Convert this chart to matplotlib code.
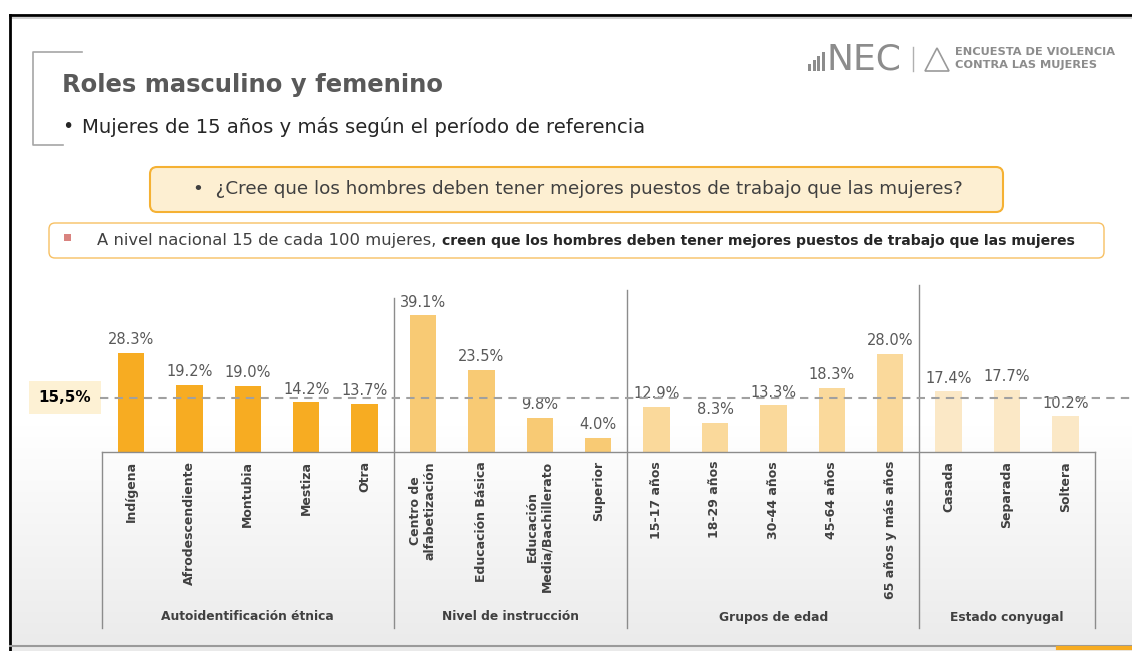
import numpy as np
import matplotlib
matplotlib.use("Agg")
import matplotlib.pyplot as plt
from matplotlib.patches import FancyBboxPatch, Rectangle, Polygon

plt.rcParams['font.family'] = ['DejaVu Sans']

# data
categories = ['Indígena', 'Afrodescendiente', 'Montubia', 'Mestiza', 'Otra',
              'Centro de\nalfabetización', 'Educación Básica',
              'Educación\nMedia/Bachillerato', 'Superior',
              '15-17 años', '18-29 años', '30-44 años', '45-64 años',
              '65 años y más años',
              'Casada', 'Separada', 'Soltera']
values = [28.3, 19.2, 19.0, 14.2, 13.7,
          39.1, 23.5, 9.8, 4.0,
          12.9, 8.3, 13.3, 18.3, 28.0,
          17.4, 17.7, 10.2]
groups = ['Autoidentificación étnica', 'Nivel de instrucción',
          'Grupos de edad', 'Estado conyugal']
group_sizes = [5, 4, 5, 3]
group_colors = ['#F7AC22', '#F8CA74', '#FAD99B', '#FBE8C6']
national = 15.5

W, H = 1132, 651
fig = plt.figure(figsize=(W / 100, H / 100), dpi=100)

# slide decorations in pixel coordinates
bg = fig.add_axes([0, 0, 1, 1])
bg.set_xlim(0, W)
bg.set_ylim(H, 0)
bg.axis('off')

grad = np.ones((H, 1))
yy = np.arange(H)
grad[:, 0] = np.clip(1 - 0.07 * (yy - 420) / 200, 0.92, 1.0)
bg.imshow(np.dstack([grad, grad, grad]), extent=(10, W, H, 15), aspect='auto', zorder=0)

# frame
bg.plot([10, W], [15, 15], color='black', lw=2, zorder=5)
bg.plot([10, W], [18, 18], color='#D0D0D0', lw=1.5, zorder=5)
bg.plot([10, 10], [15, H], color='black', lw=2, zorder=5)
bg.plot([10, W], [646, 646], color='#9A9A9A', lw=1.5, zorder=5)
bg.plot([1058, W], [648, 648], color='#F7AC22', lw=3, zorder=5)

# title bracket
bg.plot([82, 33, 33, 63], [52, 52, 145, 145], color='#A6A6A6', lw=1.2)
bg.text(62, 85, 'Roles masculino y femenino', fontsize=17.5, fontweight='bold',
        color='#595959', va='center', ha='left')
bg.text(62, 127, '•', fontsize=13.8, color='#262626', va='center', ha='left')
bg.text(82, 127, 'Mujeres de 15 años y más según el período de referencia',
        fontsize=14.1, color='#262626', va='center', ha='left')

# logo
for i, h in enumerate([7, 11, 15, 19]):
    bg.add_patch(Rectangle((808 + i * 4.6, 71 - h), 3.2, h, color='#8C8C8C', lw=0))
bg.text(826, 59, 'NEC', fontsize=26, color='#8C8C8C', va='center', ha='left')
bg.plot([913, 913], [47, 71], color='#B0B0B0', lw=1)
bg.add_patch(Polygon([[925, 71], [937, 48], [949, 71]], closed=True, fill=False,
                     edgecolor='#9A9A9A', lw=1.2))
bg.text(955, 52, 'ENCUESTA DE VIOLENCIA', fontsize=8.2, fontweight='bold',
        color='#8C8C8C', va='center', ha='left')
bg.text(955, 65, 'CONTRA LAS MUJERES', fontsize=8.2, fontweight='bold',
        color='#8C8C8C', va='center', ha='left')

# question box
bg.add_patch(FancyBboxPatch((150, 167), 853, 45, boxstyle='round,pad=0,rounding_size=7',
                            facecolor='#FDEFD2', edgecolor='#F5B133', lw=1.5, zorder=2))
bg.text(578, 189, '•  ¿Cree que los hombres deben tener mejores puestos de trabajo que las mujeres?',
        fontsize=13.2, color='#404040', va='center', ha='center', zorder=3)

# national result box
bg.add_patch(FancyBboxPatch((49, 223), 1055, 35, boxstyle='round,pad=0,rounding_size=6',
                            facecolor='white', edgecolor='#F7C063', lw=1, zorder=2))
bg.add_patch(Rectangle((64, 234), 7, 7, color='#D9837F', lw=0, zorder=3))
t1 = bg.text(97, 241, 'A nivel nacional 15 de cada 100 mujeres, ', fontsize=11.8,
             color='#404040', va='center', ha='left', zorder=3)
bg.annotate('creen que los hombres deben tener mejores puestos de trabajo que las mujeres',
            xy=(1, 0.02), xycoords=t1, fontsize=10.1, fontweight='bold', color='#262626',
            va='bottom', ha='left', zorder=3)

# national reference label
bg.add_patch(Rectangle((29, 381), 72, 33, facecolor='#FDF1D4', edgecolor='none', zorder=2))
bg.text(65, 398, '15,5%', fontsize=11, fontweight='bold', color='black',
        va='center', ha='center', zorder=3)

# bar chart: x index i -> pixel 131 + 58.4*i, value v -> pixel 452 - 3.5*v
step, x0, base, ppu = 58.4, 131, 452, 3.5
ax = fig.add_axes([0, 0, 1, 1])
ax.patch.set_alpha(0)
ax.set_xlim((0 - x0) / step, (W - x0) / step)
ax.set_ylim(-(H - base) / ppu, base / ppu)
ax.axis('off')


def v(pix):
    return (base - pix) / ppu


colors = []
for c, n in zip(group_colors, group_sizes):
    colors += [c] * n
xs = np.arange(len(values))
ax.bar(xs, values, width=0.45, color=colors, zorder=3)

for x, val in zip(xs, values):
    ax.annotate(f'{val:.1f}%', (x, val), xytext=(0, 4), textcoords='offset points',
                ha='center', va='bottom', fontsize=10.5, color='#595959', zorder=4)

for x, lab in zip(xs, categories):
    ax.text(x, v(461), lab, rotation=90, ha='center', va='top', multialignment='center',
            fontsize=9, fontweight='bold', color='#404040', zorder=4)

ax.axhline(national, xmin=(100 / W), xmax=1, color='#A0A0A0', lw=1.5,
           dashes=(4, 3), zorder=5)

# table lines
bounds = np.concatenate([[0], np.cumsum(group_sizes)]) - 0.5
line_c = '#8C8C8C'
ax.plot([bounds[0], bounds[-1]], [0, 0], color=line_c, lw=1, zorder=4)
tops = [452, 298, 290, 285, 452]
for b, tp in zip(bounds, tops):
    ax.plot([b, b], [v(tp), v(628)], color=line_c, lw=1, zorder=4)
for g, a, b in zip(groups, bounds[:-1], bounds[1:]):
    ax.text((a + b) / 2, v(617), g, ha='center', va='center', fontsize=8.8,
            fontweight='bold', color='#404040', zorder=4)

fig.savefig('out.png', dpi=100)
